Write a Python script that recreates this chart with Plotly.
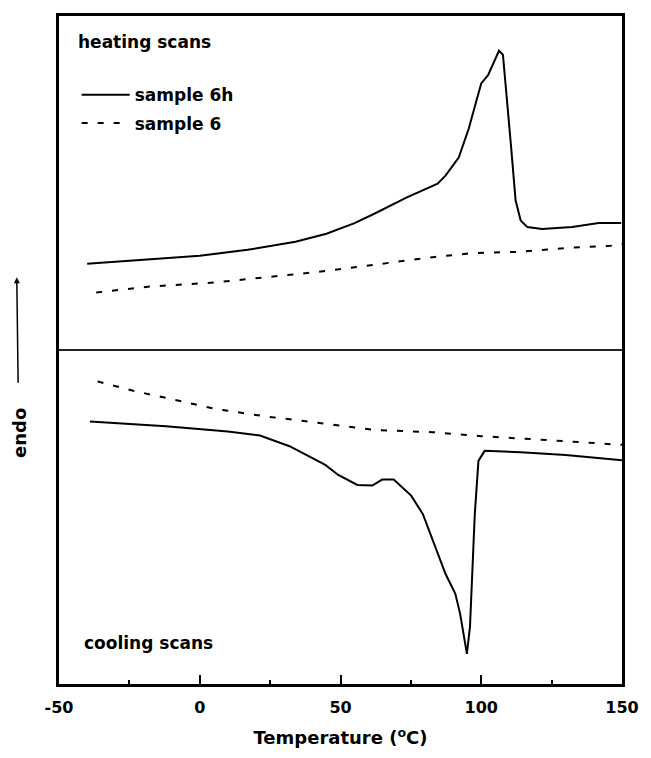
import plotly.graph_objects as go

FONT = "DejaVu Sans"

# Temperature (°C) and heat flow (arbitrary units, endo up)
heat_6h_T = [-40, -30, -18, 0, 17, 34, 45, 51, 55, 62, 73.4, 84.5, 87.3, 92, 95.6, 98.4,
             100, 102.5, 104.5, 106.3, 107.7, 108.8, 110.5, 112.2, 114, 116.4, 121.6,
             132.3, 141.7, 149.7]
heat_6h_y = [62.9, 63.2, 63.5, 64.1, 65.0, 66.2, 67.4, 68.3, 69.0, 70.4, 72.8, 74.9, 76.1,
             78.8, 83.2, 87.5, 89.9, 91.2, 93.2, 94.8, 94.2, 89.2, 80.9, 72.4, 69.4, 68.4,
             68.1, 68.4, 69.0, 69.0]

heat_6_T = [-36.8, -17.8, 5.3, 22.7, 40, 51.6, 68.9, 82.8, 96.6, 114, 131, 146, 150]
heat_6_y = [58.6, 59.5, 60.1, 60.8, 61.6, 62.2, 63.1, 63.9, 64.5, 64.7, 65.3, 65.6, 65.9]

cool_6_T = [-36.3, -23.6, -6.3, 5.3, 22.7, 40, 63, 82.8, 100, 120, 150]
cool_6_y = [45.3, 43.9, 42.3, 41.2, 40.1, 39.2, 38.0, 37.7, 37.1, 36.6, 35.8]

cool_6h_T = [-39, -12, 10, 21.4, 31.9, 44.6, 49.2, 56, 61.3, 64.8, 68.9, 75.1, 79.3, 83.8,
             87.3, 90.8, 92.5, 94.9, 96, 97.7, 99, 101.2, 114, 130, 150]
cool_6h_y = [39.3, 38.6, 37.8, 37.2, 35.6, 32.8, 31.3, 29.8, 29.7, 30.6, 30.6, 28.2, 25.4,
             20.5, 16.5, 13.5, 10.5, 4.5, 8.6, 25.4, 33.4, 34.9, 34.7, 34.3, 33.5]

x_ticks = [-50, 0, 50, 100, 150]
x_minor = [-25, 25, 75, 125]
panel_split = 50  # boundary between heating (top) and cooling (bottom) panels

DASH = "6px,10px"
BOLD = dict(family=FONT, color="black", weight="bold")

fig = go.Figure()
fig.add_trace(go.Scatter(x=heat_6h_T, y=heat_6h_y, mode="lines", name="sample 6h",
                         line=dict(color="black", width=2), legendgroup="a"))
fig.add_trace(go.Scatter(x=heat_6_T, y=heat_6_y, mode="lines", name="sample 6",
                         line=dict(color="black", width=2, dash=DASH), legendgroup="b"))
fig.add_trace(go.Scatter(x=cool_6h_T, y=cool_6h_y, mode="lines", showlegend=False,
                         line=dict(color="black", width=2)))
fig.add_trace(go.Scatter(x=cool_6_T, y=cool_6_y, mode="lines", showlegend=False,
                         line=dict(color="black", width=2, dash=DASH)))

fig.add_shape(type="line", xref="paper", x0=0, x1=1, yref="y", y0=panel_split, y1=panel_split,
              line=dict(color="#222", width=2))

fig.add_annotation(text="heating scans", xref="paper", yref="paper", x=0.031, y=0.961,
                   xanchor="left", yanchor="middle", showarrow=False,
                   font=dict(size=17, **BOLD))
fig.add_annotation(text="cooling scans", xref="paper", yref="paper", x=0.040, y=0.061,
                   xanchor="left", yanchor="middle", showarrow=False,
                   font=dict(size=17, **BOLD))
fig.add_annotation(text="endo", xref="paper", yref="paper", x=-0.075, y=0.609,
                   ax=2, ay=156, showarrow=True, arrowhead=2, arrowsize=0.8,
                   arrowwidth=1.5, arrowcolor="black", startstandoff=24,
                   textangle=-90, font=dict(size=18, **BOLD))

fig.update_layout(
    width=651, height=758,
    margin=dict(l=59, r=18, t=16, b=72),
    paper_bgcolor="white", plot_bgcolor="white",
    showlegend=True,
    legend=dict(x=0.0314, y=0.8604, xanchor="left", yanchor="middle",
                bgcolor="rgba(0,0,0,0)", borderwidth=0, itemwidth=48,
                traceorder="grouped", tracegroupgap=3,
                font=dict(size=17, **BOLD)),
    xaxis=dict(range=[-50, 150], tickvals=x_ticks, ticktext=[str(v) for v in x_ticks],
               showgrid=False, zeroline=False, showline=True, linewidth=3, linecolor="black",
               mirror=True, ticks="inside", ticklen=9, tickwidth=2, tickcolor="black",
               minor=dict(ticks="inside", ticklen=4, tickwidth=2, tickcolor="black",
                          tickvals=x_minor),
               ticklabelstandoff=7,
               tickfont=dict(size=16, **BOLD),
               title=dict(text="Temperature (<sup>o</sup>C)", standoff=16,
                          font=dict(size=18, **BOLD))),
    yaxis=dict(range=[0, 100], showticklabels=False, ticks="", showgrid=False,
               zeroline=False, showline=True, linewidth=3, linecolor="black", mirror=True),
)

fig.write_html(
    "out.html",
    config={"displayModeBar": False, "staticPlot": True},
    post_script="document.body.style.margin='0';document.body.style.overflow='hidden';",
)
